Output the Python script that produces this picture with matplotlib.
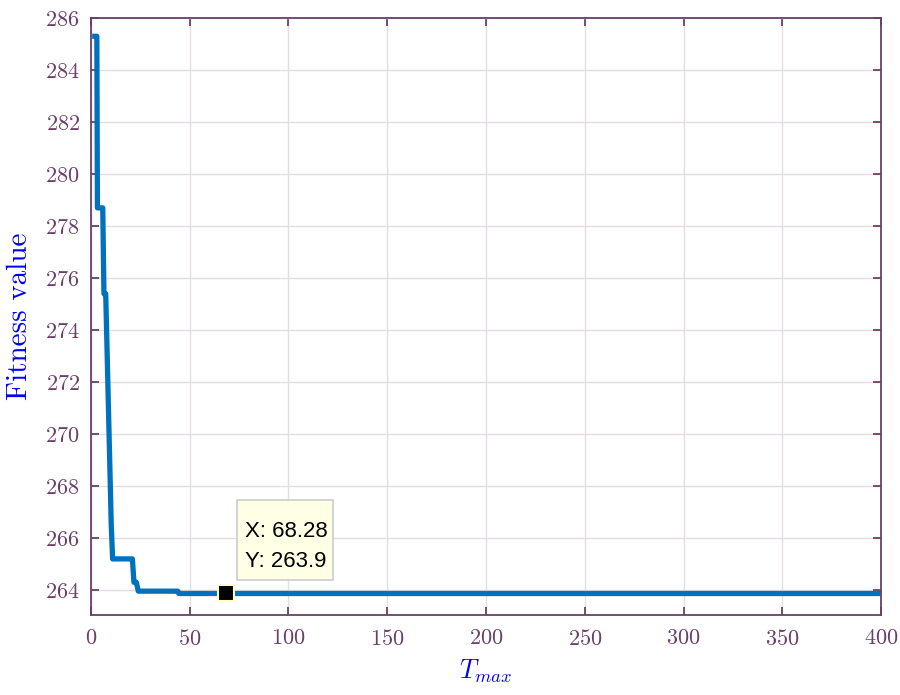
import matplotlib.pyplot as plt
import matplotlib.transforms as mtransforms
from matplotlib.patches import Rectangle
import numpy as np

plt.rcParams['mathtext.fontset'] = 'cm'
plt.rcParams['font.family'] = 'serif'
plt.rcParams['font.serif'] = ['cmr10', 'DejaVu Serif']
plt.rcParams['axes.formatter.use_mathtext'] = True

# best fitness per iteration (breakpoints of the convergence curve)
iters = [2, 3, 3.3, 6, 6.6, 7.5, 10.3, 11, 21, 21.8, 23, 24, 44, 44.5, 400]
fitness = [285.3, 285.3, 278.7, 278.7, 275.4, 275.4, 266.5, 265.2, 265.2,
           264.3, 264.3, 263.96, 263.96, 263.87, 263.87]

tip_x, tip_y = 68.28, 263.9

x_ticks = np.arange(0, 401, 50)
y_ticks = np.arange(264, 287, 2)

axis_col = '#6b3f6b'
line_col = '#0072BD'

fig = plt.figure(figsize=(9, 6.95), dpi=100)
ax = fig.add_axes([0.101, 0.115, 0.878, 0.859])

ax.plot(iters, fitness, color=line_col, lw=3.8)

ax.set_xlim(0, 400)
ax.set_ylim(263.04, 286)
ax.set_xticks(x_ticks)
ax.set_yticks(y_ticks)
ax.grid(True, color='#e4dee4', lw=1)
ax.set_axisbelow(True)

for s in ax.spines.values():
    s.set_color(axis_col)
    s.set_linewidth(1.3)
ax.tick_params(direction='in', length=6, width=1.3, colors=axis_col,
               labelsize=16, top=True, right=True)
ax.tick_params(axis='x', pad=10)
ax.tick_params(axis='y', pad=8)

ax.set_xlabel(r'$T_{max}$', color='blue', fontsize=19, labelpad=6)
ax.set_ylabel('Fitness value', color='blue', fontsize=21, labelpad=9)

# data tip: marker plus a box offset (in inches) from the picked point
ax.plot([tip_x], [tip_y], marker='s', ms=11, mfc='black', mec='#ffffcc',
        mew=1.5, zorder=5)
tip_trans = fig.dpi_scale_trans + mtransforms.ScaledTranslation(tip_x, tip_y, ax.transData)
ax.add_patch(Rectangle((0.11, 0.13), 0.96, 0.80, transform=tip_trans,
                       fc='#ffffe6', ec='#cccccc', lw=1.2, zorder=6, clip_on=False))
ax.text(0.19, 0.26, f'X: {tip_x:.2f}\nY: {tip_y:.1f}', transform=tip_trans,
        ha='left', va='baseline', fontsize=16, family='Liberation Sans',
        linespacing=1.55, zorder=7)

fig.savefig('out.png', dpi=100)
